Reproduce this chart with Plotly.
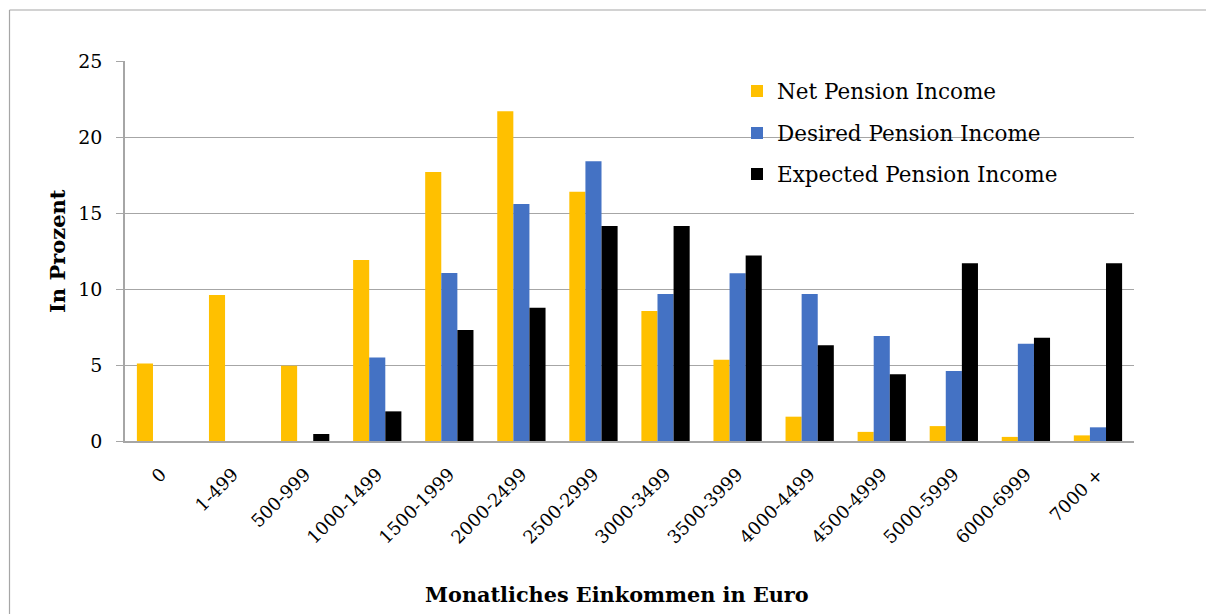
import plotly.graph_objects as go

categories = ["0", "1-499", "500-999", "1000-1499", "1500-1999", "2000-2499",
              "2500-2999", "3000-3499", "3500-3999", "4000-4499", "4500-4999",
              "5000-5999", "6000-6999", "7000 +"]
net_pension = [5.1, 9.6, 4.95, 11.9, 17.7, 21.7, 16.4, 8.55, 5.35, 1.6, 0.6, 0.98, 0.27, 0.37]
desired_pension = [0, 0, 0, 5.5, 11.05, 15.6, 18.4, 9.67, 11.03, 9.67, 6.9, 4.6, 6.4, 0.9]
expected_pension = [0, 0, 0.46, 1.95, 7.3, 8.77, 14.14, 14.14, 12.2, 6.3, 4.39, 11.7, 6.8, 11.7]
y_ticks = [0, 5, 10, 15, 20, 25]

FONT = "DejaVu Serif"
OFF = 8  # page body margin
W, H = 1214 - 2 * OFF, 614 - OFF
L, T = 125 - OFF, 61 - OFF
R = W - (1134 - OFF)
B = H - (441 - OFF)
pw, ph = W - L - R, H - T - B

def px_x(px):
    return (px - OFF - L) / pw

def px_y(py):
    return (H - B - (py - OFF)) / ph

fig = go.Figure()
fig.add_trace(go.Bar(x=categories, y=net_pension, name="Net Pension Income",
                     marker=dict(color="#FFC000", line=dict(width=0)), legend="legend"))
fig.add_trace(go.Bar(x=categories, y=desired_pension, name="Desired Pension Income",
                     marker=dict(color="#4472C4", line=dict(width=0)), legend="legend2"))
fig.add_trace(go.Bar(x=categories, y=expected_pension, name="Expected Pension Income",
                     marker=dict(color="#000000", line=dict(width=0)), legend="legend3"))

leg_font = dict(family=FONT, size=21.5, color="black")
def leg(py):
    return dict(x=px_x(737), y=px_y(py), xanchor="left", yanchor="middle",
                bgcolor="rgba(0,0,0,0)", font=leg_font, itemwidth=30)

fig.update_layout(
    width=W, height=H,
    margin=dict(l=L, r=R, t=T, b=B, autoexpand=False),
    paper_bgcolor="white", plot_bgcolor="white",
    barmode="group", bargap=0.33, bargroupgap=0,
    font=dict(family=FONT, color="black"),
    legend=leg(91), legend2=leg(133), legend3=leg(174),
    showlegend=True,
)
fig.update_xaxes(showline=True, linecolor="#a6a6a6", linewidth=1.5, tickangle=-45,
                 tickfont=dict(family=FONT, size=18, color="black"), ticks="",
                 ticklabelstandoff=14, showgrid=False, automargin=False)
fig.update_yaxes(range=[0, 25], tickvals=y_ticks, showline=True, linecolor="#a6a6a6",
                 linewidth=1.5, ticks="outside", ticklen=7, tickcolor="#a6a6a6",
                 ticklabelstandoff=10,
                 gridcolor="#a6a6a6", gridwidth=1.2, zeroline=False,
                 tickfont=dict(family=FONT, size=19, color="black"), automargin=False)

# white area behind the legend interrupting gridlines
fig.add_shape(type="rect", xref="paper", yref="paper", layer="between",
              x0=px_x(713), x1=px_x(1102), y0=px_y(195), y1=px_y(68),
              fillcolor="white", line=dict(width=0))
# outer chart border (top and left edges)
border = dict(color="#a6a6a6", width=1.2)
fig.add_shape(type="line", xref="paper", yref="paper",
              x0=px_x(9.5), x1=px_x(1214), y0=px_y(10), y1=px_y(10), line=border)
fig.add_shape(type="line", xref="paper", yref="paper",
              x0=px_x(9.5), x1=px_x(9.5), y0=px_y(10), y1=px_y(614), line=border)

fig.add_annotation(text="<b>Monatliches Einkommen in Euro</b>", xref="paper", yref="paper",
                   x=px_x(617), y=px_y(594), xanchor="center", yanchor="middle",
                   showarrow=False, font=dict(family=FONT, size=20.8, color="black"))
fig.add_annotation(text="<b>In Prozent</b>", xref="paper", yref="paper",
                   x=px_x(57), y=px_y(251), xanchor="center", yanchor="middle",
                   showarrow=False, textangle=-90,
                   font=dict(family=FONT, size=21, color="black"))

fig.write_html("out.html")
